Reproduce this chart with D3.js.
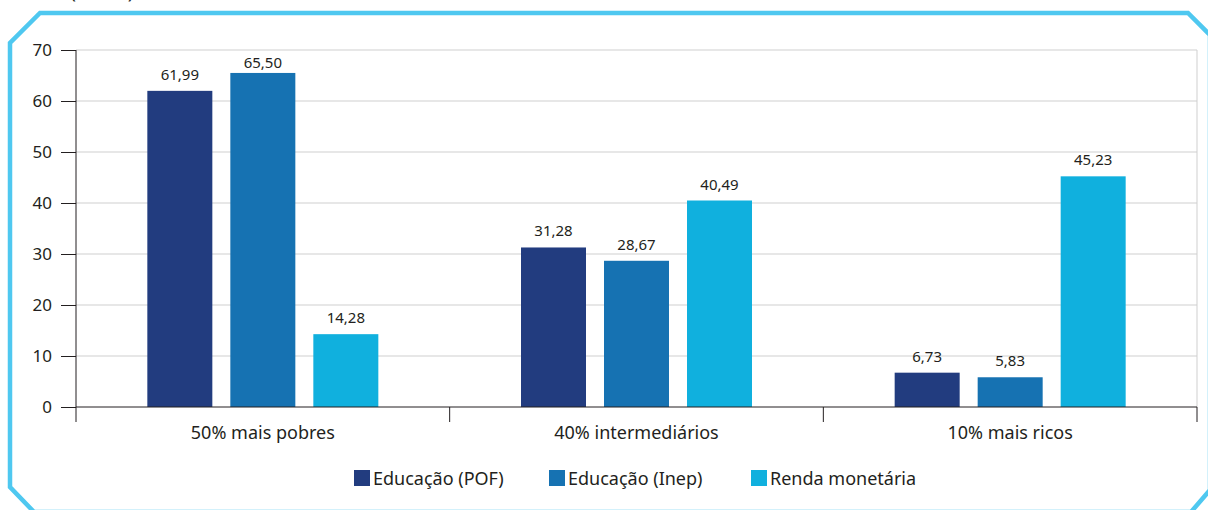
<!DOCTYPE html>
<html>
<head>
<meta charset="utf-8">
<script src="https://cdn.jsdelivr.net/npm/d3@7"></script>
<style>
  body { margin: 0; background: #fff; }
  text { font-family: "Noto Sans", "Open Sans", sans-serif; fill: #231f20; }
</style>
</head>
<body>
<div id="chart"></div>
<script>
// Distribuição (%) por grupo de renda

var categories = ["50% mais pobres", "40% intermediários", "10% mais ricos"];
var series = ["Educação (POF)", "Educação (Inep)", "Renda monetária"];
var valuesPOF = [61.99, 31.28, 6.73];
var valuesInep = [65.50, 28.67, 5.83];
var valuesRenda = [14.28, 40.49, 45.23];
var yTicks = [0, 10, 20, 30, 40, 50, 60, 70];
var colors = ["#223c7f", "#1672b2", "#10b0de"];

var svgWidth = 1208;
var svgHeight = 510;
var margin = { top: 50, right: 11, bottom: 103, left: 76 };
var width = svgWidth - margin.left - margin.right;
var height = svgHeight - margin.top - margin.bottom;

var svg = d3.select("#chart")
  .append("svg")
  .attr("width", svgWidth)
  .attr("height", svgHeight);

// frame with cut corners
var frame = [[40, 13], [1188, 13], [1210, 35], [1210, 490], [1191, 512],
             [34, 512], [10, 487], [10, 43]];
svg.append("path")
  .attr("d", d3.line()(frame) + "Z")
  .attr("fill", "none")
  .attr("stroke", "#4fc8f0")
  .attr("stroke-width", 4.5);

// partly cut title unit (cropped at the top in the original too)
svg.append("text")
  .attr("x", 70)
  .attr("y", -2)
  .attr("font-size", 20)
  .attr("fill", "#555")
  .text("(em %)");

var g = svg.append("g")
  .attr("transform", `translate(${margin.left}, ${margin.top})`);

var data = categories.map(function(c, i) {
  return { cat: c, vals: [valuesPOF[i], valuesInep[i], valuesRenda[i]] };
});

var x0 = d3.scaleBand()
  .domain(categories)
  .range([0, width]);

var bw = x0.bandwidth();
var x1 = d3.scaleBand()
  .domain(series)
  .range([bw / 2 - 115.5, bw / 2 + 115.5])
  .paddingInner(18 / 83);

var y = d3.scaleLinear()
  .domain([0, 70])
  .range([height, 0]);

// gridlines
g.selectAll(".grid")
  .data(yTicks.slice(1))
  .enter()
  .append("line")
  .attr("x1", 0)
  .attr("x2", width)
  .attr("y1", d => y(d))
  .attr("y2", d => y(d))
  .attr("stroke", "#cfcfcf")
  .attr("stroke-width", 1);

// right border of plot
g.append("line")
  .attr("x1", width).attr("x2", width)
  .attr("y1", 0).attr("y2", height)
  .attr("stroke", "#cfcfcf");

// y axis
var yAxis = g.append("g")
  .call(d3.axisLeft(y).tickValues(yTicks).tickSize(15).tickPadding(9).tickFormat(d3.format("d")));
yAxis.select(".domain").remove();
yAxis.selectAll("line").attr("stroke", "#231f20");
yAxis.selectAll("text").attr("font-size", 17).attr("fill", "#231f20")
  .style("font-family", "'Noto Sans', sans-serif");

g.append("line")
  .attr("x1", 0).attr("x2", 0)
  .attr("y1", 0).attr("y2", height + 15)
  .attr("stroke", "#231f20");

// bars
var groups = g.selectAll(".group")
  .data(data)
  .enter()
  .append("g")
  .attr("transform", d => `translate(${x0(d.cat)}, 0)`);

groups.selectAll("rect")
  .data(d => d.vals.map((v, i) => ({ s: series[i], v: v, i: i })))
  .enter()
  .append("rect")
  .attr("x", d => x1(d.s))
  .attr("y", d => y(d.v))
  .attr("width", x1.bandwidth())
  .attr("height", d => height - y(d.v))
  .attr("fill", d => colors[d.i]);

// value labels (kept below the top edge of the plot)
groups.selectAll(".val")
  .data(d => d.vals.map((v, i) => ({ s: series[i], v: v })))
  .enter()
  .append("text")
  .attr("x", d => x1(d.s) + x1.bandwidth() / 2)
  .attr("y", d => Math.max(y(d.v) - 11, 18))
  .attr("text-anchor", "middle")
  .attr("font-size", 15)
  .text(d => d3.format(".2f")(d.v).replace(".", ","));

// x axis
g.append("line")
  .attr("x1", 0).attr("x2", width)
  .attr("y1", height).attr("y2", height)
  .attr("stroke", "#231f20");

g.selectAll(".xtick")
  .data(categories)
  .enter()
  .append("line")
  .attr("x1", d => x0(d) + bw)
  .attr("x2", d => x0(d) + bw)
  .attr("y1", height)
  .attr("y2", height + 15)
  .attr("stroke", "#231f20");

g.selectAll(".xlab")
  .data(categories)
  .enter()
  .append("text")
  .attr("x", d => x0(d) + bw / 2)
  .attr("y", height + 32)
  .attr("text-anchor", "middle")
  .attr("font-size", 18)
  .text(d => d);

// legend
var legendX = [354, 549, 751];
var legend = svg.selectAll(".legend")
  .data(series)
  .enter()
  .append("g")
  .attr("transform", (d, i) => `translate(${legendX[i]}, 470)`);

legend.append("rect")
  .attr("width", 16)
  .attr("height", 16)
  .attr("fill", (d, i) => colors[i]);

legend.append("text")
  .attr("x", 19)
  .attr("y", 15)
  .attr("font-size", 18)
  .text(d => d);
</script>
</body>
</html>
